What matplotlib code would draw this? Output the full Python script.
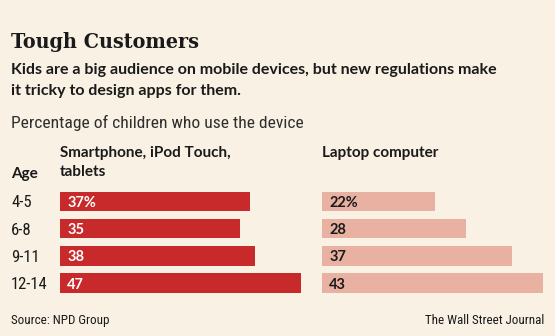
import matplotlib
matplotlib.use("Agg")
import matplotlib.pyplot as plt

# Data
ages = ["4-5", "6-8", "9-11", "12-14"]
mobile = [37, 35, 38, 47]
laptop = [22, 28, 37, 43]
mobile_labels = ["37%", "35", "38", "47"]
laptop_labels = ["22%", "28", "37", "43"]

W, H = 555, 336
BG = "#f8f1e4"
RED = "#c8292b"
PINK = "#e9b1a2"
INK = "#1a1a1a"

fig = plt.figure(figsize=(W / 100, H / 100), dpi=100, facecolor=BG)


def px(x, y):
    return x / W, 1 - y / H


def txt(x, y, s, **kw):
    fx, fy = px(x, y)
    kw.setdefault("va", "baseline")
    kw.setdefault("color", INK)
    fig.text(fx, fy, s, **kw)


SANS = "Lato"
NARROW = ["Roboto Condensed", "Lato"]

txt(11, 48, "Tough Customers", family="DejaVu Serif", weight="bold",
    fontstretch="condensed", size=15.4)
txt(11, 74, "Kids are a big audience on mobile devices, but new regulations make",
    family=SANS, weight="bold", size=11.55)
txt(11, 95, "it tricky to design apps for them.", family=SANS, weight="bold", size=11.55)
txt(11, 128, "Percentage of children who use the device", family=NARROW,
    size=12.6, color="#2e2e2e")

txt(60, 157, "Smartphone, iPod Touch,", family=SANS, weight="bold", size=11)
txt(60, 176, "tablets", family=SANS, weight="bold", size=11)
txt(11, 178, "Age", family=SANS, weight="bold", size=11)
txt(322, 157, "Laptop computer", family=SANS, weight="bold", size=11)

txt(11, 324, "Source: NPD Group", family=NARROW, size=9.4)
txt(544, 324, "The Wall Street Journal", family=NARROW, size=9.4, ha="right")

# Bar panels share one scale (px per percentage point)
scale = 5.13
xmax = 50
row = 27.3
top = 201.3 - row / 2
bottom = top + row * 4
n = len(ages)


def panel(x0, values, labels, color, label_color):
    fx, fy = px(x0, bottom)
    ax = fig.add_axes([fx, fy, xmax * scale / W, (bottom - top) / H])
    ax.set_facecolor("none")
    ax.barh(range(n), values, height=0.715, color=color, left=0)
    ax.set_xlim(0, xmax)
    ax.set_ylim(n - 0.5, -0.5)
    ax.axis("off")
    for i, lab in enumerate(labels):
        ax.text(1.4, i, lab, va="center_baseline", ha="left", color=label_color,
                family=SANS, weight="bold", size=10.5)
    return ax


ax1 = panel(60, mobile, mobile_labels, RED, "white")
ax2 = panel(322, laptop, laptop_labels, PINK, INK)

for i, a in enumerate(ages):
    ax1.text(-49 / scale, i, a, va="center_baseline", ha="left", color=INK,
             family=NARROW, size=12, clip_on=False)

fig.savefig("out.png", dpi=100, facecolor=BG)
